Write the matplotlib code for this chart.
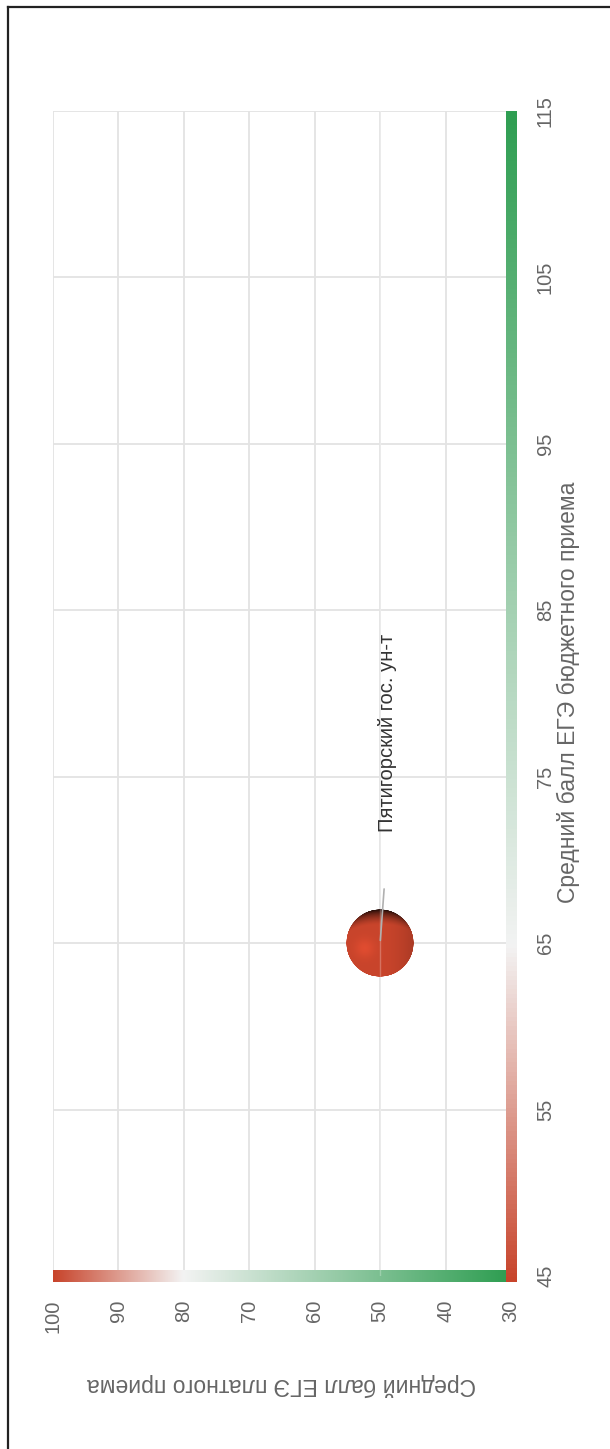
import numpy as np
import matplotlib.pyplot as plt
from matplotlib.colors import LinearSegmentedColormap
from matplotlib.offsetbox import OffsetImage, AnnotationBbox
from matplotlib.lines import Line2D

plt.rcParams['font.family'] = ['Liberation Sans', 'DejaVu Sans']

# data
names = ['Пятигорский гос. ун-т']
budget_score = [65]   # средний балл ЕГЭ бюджетного приема
paid_score = [50]     # средний балл ЕГЭ платного приема

budget_ticks = [45, 55, 65, 75, 85, 95, 105, 115]
paid_ticks = [100, 90, 80, 70, 60, 50, 40, 30]

budget_label = 'Средний балл ЕГЭ бюджетного приема'
paid_label = 'Средний балл ЕГЭ платного приема'

tick_col = '#666666'
grid_col = '#e3e3e3'
red = '#c8442b'
green = '#2f9e52'

fig = plt.figure(figsize=(6.10, 14.49), dpi=100)
ax = fig.add_axes([53/610, 173/1449, 458/610, 1165/1449])

ax.set_xlim(100, 30)
ax.set_ylim(45, 115)
ax.set_xticks(paid_ticks)
ax.set_yticks(budget_ticks)
ax.set_xticklabels([str(t) for t in paid_ticks], rotation=90, va='top', ha='center')
ax.yaxis.tick_right()
ax.set_yticklabels([str(t) for t in budget_ticks], rotation=90, va='center')
ax.tick_params(axis='both', length=0, labelsize=14.5, colors=tick_col)
ax.tick_params(axis='x', pad=17)
ax.tick_params(axis='y', pad=18)
ax.grid(True, color=grid_col, lw=1.3)
ax.set_axisbelow(True)
for s in ax.spines.values():
    s.set_visible(False)

# gradient axis bars
cmap = LinearSegmentedColormap.from_list('rg', [(0, red), (0.286, '#f3f3f3'), (1, green)])
grad = np.linspace(0, 1, 256)
ax.imshow(grad.reshape(1, -1), cmap=cmap, aspect='auto', transform=ax.transAxes,
          extent=[0, 0.99, -0.005, 0.0045], clip_on=False, zorder=3)
ax.imshow(grad.reshape(-1, 1), cmap=cmap, aspect='auto', origin='lower', transform=ax.transAxes,
          extent=[0.99, 1.012, -0.005, 1.0], clip_on=False, zorder=4)
ax.set_xlim(100, 30)
ax.set_ylim(45, 115)

# shaded bubble: dark cap on top, slight darkening on the right, soft highlight lower-left
n = 200
u, v = np.meshgrid(np.linspace(-1, 1, n), np.linspace(-1, 1, n))
r2 = u**2 + v**2
z = np.sqrt(np.clip(1 - r2, 0, 1))
top = np.clip((-v*0.9 - z*0.35 - 0.2) / 0.6, 0, 1)**1.3
right = np.clip(u, 0, 1)**2
hl = np.exp(-((u + 0.45)**2 + (v - 0.15)**2) / 0.08)
shade = 1 - 0.8*top - 0.15*right + 0.12*hl
base = np.array([200, 68, 43]) / 255
img = np.zeros((n, n, 4))
img[..., :3] = np.clip(base[None, None, :]*shade[..., None], 0, 1)
img[..., 3] = np.clip((1 - np.sqrt(r2))*n/2, 0, 1)

for x, y, name in zip(paid_score, budget_score, names):
    ab = AnnotationBbox(OffsetImage(img, zoom=68/n*0.72), (x, y), frameon=False, zorder=5)
    ax.add_artist(ab)
    ax.axvline(x, color='white', alpha=0.25, lw=1.0, zorder=5.5)
    ax.annotate('', xy=(x, y), xytext=(3, 41), textcoords='offset points',
                arrowprops=dict(arrowstyle='-', color='#b0b0b0', lw=1.2), zorder=6)
    ax.annotate(name, xy=(x, y), xytext=(5.5, 80), textcoords='offset points',
                rotation=90, ha='center', va='bottom', fontsize=14.5, color='#333333', zorder=6)

ax.set_xlabel(paid_label, rotation=180, fontsize=16.5, color=tick_col)
ax.xaxis.set_label_coords(0.5, (1276-1385)/1165)
ax.xaxis.label.set_va('center')
ax.yaxis.set_label_position('right')
ax.set_ylabel(budget_label, rotation=90, fontsize=16.5, color=tick_col)
ax.yaxis.set_label_coords((568-53)/458, (1276-692)/1165)
ax.yaxis.label.set_va('center')
ax.yaxis.label.set_ha('center')

# frame
fig.add_artist(Line2D([8/610, 8/610], [0, 1-7/1449], color='#222222', lw=1.6))
fig.add_artist(Line2D([8/610, 1], [1-7/1449, 1-7/1449], color='#222222', lw=1.6))

fig.savefig('out.png', dpi=100, facecolor='white')
